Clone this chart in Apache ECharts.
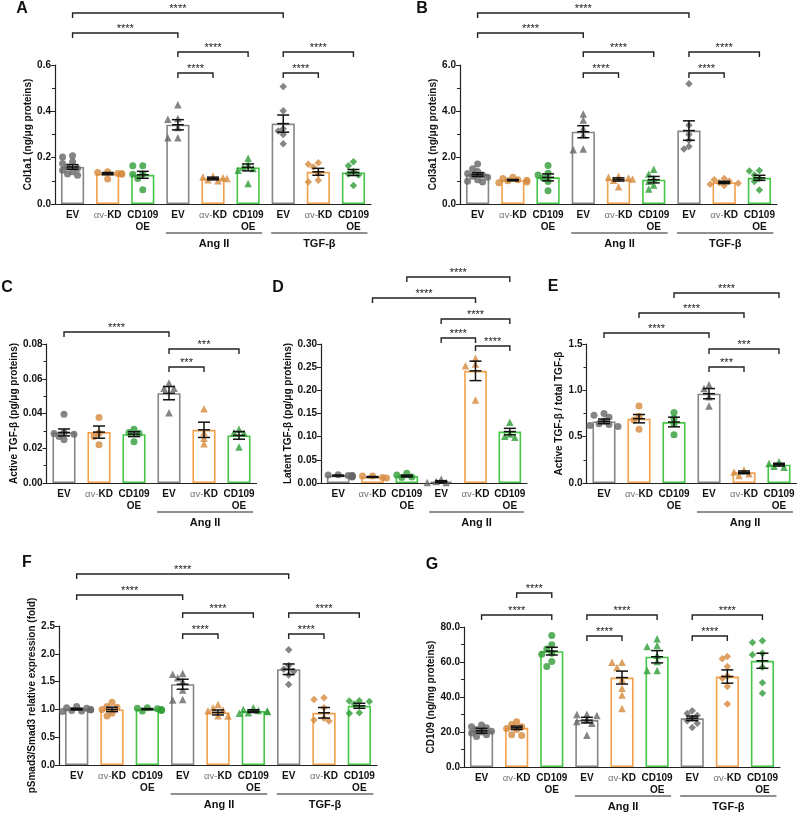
<!DOCTYPE html>
<html>
<head>
<meta charset="utf-8">
<script src="https://cdn.jsdelivr.net/npm/echarts@6/dist/echarts.min.js"></script>
<style>
html, body { margin: 0; padding: 0; background: #fff; }
#main { width: 798px; height: 814px; }
</style>
</head>
<body>
<div id="main"></div>
<script>
// categories
var cats9 = ['EV', 'αv-KD', 'CD109\nOE', 'EV', 'αv-KD', 'CD109\nOE', 'EV', 'αv-KD', 'CD109\nOE'];
var cats6 = cats9.slice(0, 6);
var groups9 = [[3, 5, 'Ang II'], [6, 8, 'TGF-β']];
var groups6 = [[3, 5, 'Ang II']];

// A - Col1a1
var aMean = [0.160, 0.131, 0.126, 0.342, 0.110, 0.158, 0.347, 0.139, 0.136];
var aSem = [0.010, 0.005, 0.015, 0.022, 0.006, 0.015, 0.037, 0.015, 0.013];
var aPts = [
    [0.208, 0.203, 0.182, 0.175, 0.160, 0.153, 0.146, 0.139, 0.129, 0.124],
    [0.139, 0.136, 0.132, 0.132, 0.128, 0.108],
    [0.165, 0.165, 0.130, 0.128, 0.110, 0.062],
    [0.428, 0.369, 0.366, 0.330, 0.286, 0.286],
    [0.120, 0.117, 0.113, 0.110, 0.105, 0.100],
    [0.197, 0.170, 0.160, 0.153, 0.146, 0.088],
    [0.507, 0.403, 0.325, 0.315, 0.300, 0.260],
    [0.178, 0.172, 0.160, 0.130, 0.103, 0.095],
    [0.182, 0.165, 0.140, 0.130, 0.125, 0.080]
];
var aBr = [[0, 6, '****'], [0, 3, '****'], [3, 5, '****'], [6, 8, '****'], [3, 4, '****'], [6, 7, '****']];

// B - Col3a1
var bMean = [1.27, 1.03, 1.15, 3.12, 1.06, 1.05, 3.17, 0.93, 1.13];
var bSem = [0.08, 0.03, 0.15, 0.26, 0.07, 0.14, 0.42, 0.05, 0.11];
var bPts = [
    [1.73, 1.52, 1.40, 1.32, 1.25, 1.20, 1.15, 1.05, 0.98, 0.95],
    [1.15, 1.10, 1.05, 1.02, 1.00, 0.95, 0.92],
    [1.66, 1.33, 1.25, 1.12, 0.97, 0.57],
    [3.89, 3.63, 3.27, 2.99, 2.37, 2.34],
    [1.20, 1.15, 1.12, 1.08, 1.02, 0.75],
    [1.50, 1.30, 1.10, 0.98, 0.82, 0.65],
    [5.19, 3.40, 3.00, 2.75, 2.48, 2.37],
    [1.10, 1.05, 0.98, 0.93, 0.90, 0.85, 0.80],
    [1.45, 1.42, 1.25, 1.10, 0.97, 0.60]
];
var bBr = [[0, 6, '****'], [0, 3, '****'], [3, 5, '****'], [6, 8, '****'], [3, 4, '****'], [6, 7, '****']];

// C - Active TGF-b
var cMean = [0.0291, 0.0293, 0.0281, 0.0517, 0.0306, 0.0274];
var cSem = [0.0020, 0.0035, 0.0014, 0.0038, 0.0044, 0.0022];
var cPts = [
    [0.0396, 0.0290, 0.0285, 0.0280, 0.0268, 0.0249],
    [0.0377, 0.0287, 0.0268, 0.0220],
    [0.0310, 0.0290, 0.0287, 0.0237],
    [0.0575, 0.0545, 0.0545, 0.0405],
    [0.0427, 0.0290, 0.0258, 0.0226],
    [0.0310, 0.0290, 0.0287, 0.0207]
];
var cBr = [[0, 3, '****'], [3, 5, '***'], [3, 4, '***']];

// D - Latent TGF-b
var dMean = [0.016, 0.013, 0.015, 0.003, 0.242, 0.111];
var dSem = [0.001, 0.001, 0.002, 0.002, 0.021, 0.007];
var dPts = [
    [0.018, 0.017, 0.016, 0.016, 0.015, 0.015, 0.014, 0.013],
    [0.015, 0.015, 0.012, 0.011],
    [0.021, 0.017, 0.013, 0.012],
    [0.008, 0.003, 0.001, 0.001],
    [0.269, 0.257, 0.253, 0.179],
    [0.131, 0.106, 0.101, 0.099]
];
var dBr = [[2, 5, '****'], [1, 4, '****'], [3, 5, '****'], [3, 4, '****'], [4, 5, '****']];

// E - active / total
var eMean = [0.665, 0.694, 0.658, 0.964, 0.115, 0.198];
var eSem = [0.025, 0.045, 0.052, 0.055, 0.015, 0.015];
var ePts = [
    [0.75, 0.73, 0.71, 0.67, 0.64, 0.63, 0.62, 0.61],
    [0.83, 0.72, 0.68, 0.58],
    [0.76, 0.70, 0.64, 0.52],
    [1.06, 1.02, 0.93, 0.83],
    [0.14, 0.12, 0.10, 0.08],
    [0.23, 0.21, 0.18, 0.17]
];
var eBr = [[2, 5, '****'], [1, 4, '****'], [0, 3, '****'], [3, 5, '***'], [3, 4, '***']];

// F - pSmad3/Smad3
var fMean = [1.005, 1.000, 1.005, 1.453, 0.945, 0.969, 1.722, 0.939, 1.065];
var fSem = [0.015, 0.040, 0.010, 0.090, 0.045, 0.025, 0.095, 0.095, 0.045];
var fPts = [
    [1.05, 1.03, 1.02, 1.00, 0.99, 0.98, 0.97, 0.96],
    [1.13, 1.05, 1.04, 1.00, 0.93, 0.88],
    [1.03, 1.02, 1.01, 1.00, 0.99, 0.98, 0.97],
    [1.645, 1.633, 1.567, 1.50, 1.35, 1.18, 1.17],
    [1.09, 1.03, 0.99, 0.975, 0.885, 0.88],
    [1.03, 1.00, 0.98, 0.97, 0.96, 0.94, 0.93],
    [2.075, 1.79, 1.72, 1.68, 1.62, 1.45],
    [1.21, 1.18, 1.03, 0.84, 0.81, 0.79],
    [1.155, 1.15, 1.14, 1.095, 0.94, 0.93]
];
var fBr = [[0, 6, '****'], [0, 3, '****'], [3, 5, '****'], [6, 8, '****'], [3, 4, '****'], [6, 7, '****']];

// G - CD109
var gMean = [20.7, 22.4, 66.2, 26.8, 51.1, 63.0, 27.8, 51.7, 60.7];
var gSem = [1.4, 1.0, 2.2, 1.6, 3.7, 3.5, 1.3, 3.8, 4.3];
var gPts = [
    [24.0, 23.0, 22.5, 21.5, 20.5, 20.0, 19.5, 18.5, 17.5],
    [25.8, 24.3, 23.0, 22.0, 21.5, 18.5, 18.0],
    [75.2, 69.9, 67.4, 65.0, 64.5, 60.3, 57.4],
    [30.2, 30.0, 29.5, 27.0, 26.0, 25.0, 18.2],
    [59.9, 59.9, 56.8, 49.8, 45.0, 41.1, 33.5],
    [73.3, 69.5, 68.9, 63.7, 60.3, 55.1, 55.1],
    [32.2, 30.6, 29.5, 28.0, 26.5, 25.0, 22.6],
    [63.2, 61.8, 57.4, 52.0, 50.7, 46.0, 36.0],
    [72.2, 71.2, 65.0, 64.1, 57.0, 48.2, 42.1]
];
var gBr = [[1, 2, '****'], [0, 2, '****'], [3, 5, '****'], [6, 8, '****'], [3, 4, '****'], [6, 7, '****']];

var barColors = ['#868686', '#f2a04c', '#46c646'];
var dotColors = ['#666666', '#d4893c', '#2f9e37'];
var shapes = ['circle', 'triangle', 'diamond'];
var FONT = '"Liberation Sans", Arial, sans-serif';

// layout per panel: grid = [left, top, width, height], brY = pixel rows of the brackets
var panels = [
    { letter: 'A', lp: [22, 9], grid: [55, 65, 316, 139], cats: cats9, groups: groups9, mean: aMean, sem: aSem, pts: aPts, br: aBr,
      brY: [13, 33, 52, 52, 73, 73], max: 0.6, interval: 0.2, minor: true, dec: 1, name: 'Col1a1 (ng/μg proteins)', gap: 20 },
    { letter: 'B', lp: [422, 9], grid: [460, 65, 317, 139], cats: cats9, groups: groups9, mean: bMean, sem: bSem, pts: bPts, br: bBr,
      brY: [13, 33, 52, 52, 73, 73], max: 6, interval: 2, minor: true, dec: 1, name: 'Col3a1 (ng/μg proteins)', gap: 22 },
    { letter: 'C', lp: [7, 288], grid: [46.5, 344, 210, 139], cats: cats6, groups: groups6, mean: cMean, sem: cSem, pts: cPts, br: cBr,
      brY: [332, 349, 367], max: 0.08, interval: 0.02, minor: true, dec: 2, name: 'Active TGF-β (pg/μg proteins)', gap: 24 },
    { letter: 'D', lp: [278, 288], grid: [321, 344, 206, 139], cats: cats6, groups: groups6, mean: dMean, sem: dSem, pts: dPts, br: dBr,
      brY: [277, 298, 319, 338, 346], max: 0.3, interval: 0.05, minor: false, dec: 2, name: 'Latent TGF-β (pg/μg proteins)', gap: 26 },
    { letter: 'E', lp: [553, 287], grid: [586.5, 344, 210, 139], cats: cats6, groups: groups6, mean: eMean, sem: eSem, pts: ePts, br: eBr,
      brY: [293, 313, 333, 349, 367], max: 1.5, interval: 0.5, minor: true, dec: 1, name: 'Active TGF-β / total TGF-β', gap: 15 },
    { letter: 'F', lp: [27, 563], grid: [59, 626, 318, 139], cats: cats9, groups: groups9, mean: fMean, sem: fSem, pts: fPts, br: fBr,
      brY: [574, 595, 613, 613, 634, 634], max: 2.5, interval: 0.5, minor: false, dec: 1, name: 'pSmad3/Smad3 relative expression (fold)', gap: 18 },
    { letter: 'G', lp: [432, 565], grid: [464, 627, 316, 140], cats: cats9, groups: groups9, mean: gMean, sem: gSem, pts: gPts, br: gBr,
      brY: [593, 615, 615, 615, 636, 636], max: 80, interval: 20, minor: true, dec: 1, name: 'CD109 (ng/mg proteins)', gap: 25 }
];

// spread overlapping dots sideways, GraphPad style
function swarm(vals, ppu) {
    var steps = [0, -5, 5, -10, 10, -14, 14];
    var placed = [];
    return vals.map(function(v) {
        var py = v * ppu, dx = steps[steps.length - 1];
        for (var s = 0; s < steps.length; s++) {
            var ok = placed.every(function(q) {
                var ex = steps[s] - q[0], ey = py - q[1];
                return ex * ex + ey * ey >= 30;
            });
            if (ok) { dx = steps[s]; break; }
        }
        placed.push([dx, py]);
        return dx;
    });
}

function catLabel(v) {
    return v === 'αv-KD' ? '{a|αv-}{b|KD}' : v;
}

var grids = [], xAxes = [], yAxes = [], series = [], graphics = [];

panels.forEach(function(p, k) {
    grids.push({ left: p.grid[0], top: p.grid[1], width: p.grid[2], height: p.grid[3], outerBoundsMode: 'none' });
    xAxes.push({
        type: 'category', gridIndex: k, data: p.cats,
        axisLine: { lineStyle: { color: '#222', width: 1.2 } },
        axisTick: { show: false },
        splitLine: { show: false },
        axisLabel: {
            interval: 0, margin: 5, color: '#111', fontSize: 10, fontWeight: 'bold', fontFamily: FONT, lineHeight: 12,
            formatter: catLabel,
            rich: {
                a: { fontSize: 9.5, fontWeight: 'normal', color: '#777', fontFamily: FONT },
                b: { fontSize: 10, fontWeight: 'bold', color: '#111', fontFamily: FONT }
            }
        }
    });
    yAxes.push({
        type: 'value', gridIndex: k, min: 0, max: p.max, interval: p.interval,
        name: p.name, nameLocation: 'middle', nameGap: p.gap,
        nameTextStyle: { fontSize: 10, fontWeight: 'bold', color: '#111', fontFamily: FONT },
        axisLine: { show: true, lineStyle: { color: '#222', width: 1.2 } },
        axisTick: { show: true, length: 4, lineStyle: { color: '#222' } },
        minorTick: { show: p.minor, splitNumber: 2, length: 3, lineStyle: { color: '#222' } },
        splitLine: { show: false },
        minorSplitLine: { show: false },
        axisLabel: {
            fontSize: 10, fontWeight: 'bold', color: '#111', fontFamily: FONT, margin: 4,
            formatter: function(v) { return v.toFixed(p.dec); }
        }
    });

    series.push({
        type: 'bar', xAxisIndex: k, yAxisIndex: k, barWidth: '66%', silent: true, z: 2,
        data: p.mean.map(function(m, i) {
            return { value: m, itemStyle: { color: '#fff', borderColor: barColors[i % 3], borderWidth: 1.6 } };
        })
    });

    var ppu = p.grid[3] / p.max;
    var dots = [];
    p.pts.forEach(function(vals, i) {
        var offs = swarm(vals, ppu);
        vals.forEach(function(v, j) {
            var shape = shapes[Math.floor(i / 3)];
            dots.push({
                value: [i, v], symbol: shape, symbolSize: shape === 'circle' ? 7 : 7.5,
                symbolOffset: [offs[j], 0], itemStyle: { color: dotColors[i % 3] }
            });
        });
    });
    series.push({ type: 'scatter', xAxisIndex: k, yAxisIndex: k, silent: true, z: 3, data: dots });

    series.push({
        type: 'custom', xAxisIndex: k, yAxisIndex: k, silent: true, z: 4,
        encode: { x: 0, y: 1 },
        data: p.mean.map(function(m, i) { return [i, m, p.sem[i]]; }),
        renderItem: function(params, api) {
            var i = api.value(0), m = api.value(1), s = api.value(2);
            var c = api.coord([i, m]), t = api.coord([i, m + s]), b = api.coord([i, Math.max(0, m - s)]);
            var w = 6, st = { stroke: '#111', lineWidth: 1.5 };
            return { type: 'group', children: [
                { type: 'line', shape: { x1: c[0], y1: t[1], x2: c[0], y2: b[1] }, style: st },
                { type: 'line', shape: { x1: c[0] - w, y1: t[1], x2: c[0] + w, y2: t[1] }, style: st },
                { type: 'line', shape: { x1: c[0] - w, y1: b[1], x2: c[0] + w, y2: b[1] }, style: st },
                { type: 'line', shape: { x1: c[0] - w, y1: c[1], x2: c[0] + w, y2: c[1] }, style: st }
            ] };
        }
    });

    // significance brackets
    series.push({
        type: 'custom', xAxisIndex: k, yAxisIndex: k, silent: true, z: 5, clip: false,
        encode: { x: 0, y: 1 },
        data: p.br.map(function(b, j) { return [b[0], 0, b[1], j]; }),
        renderItem: function(params, api) {
            var j = api.value(3);
            var x1 = api.coord([api.value(0), 0])[0], x2 = api.coord([api.value(2), 0])[0];
            var y = p.brY[j];
            return { type: 'group', children: [
                { type: 'polyline', shape: { points: [[x1, y + 5], [x1, y], [x2, y], [x2, y + 5]] },
                  style: { stroke: '#222', lineWidth: 1.4, fill: null } },
                { type: 'text', x: (x1 + x2) / 2, y: y - 4,
                  style: { text: p.br[j][2], fill: '#222', font: '11px ' + FONT, align: 'center', verticalAlign: 'middle' } }
            ] };
        }
    });

    // treatment group underline
    series.push({
        type: 'custom', xAxisIndex: k, yAxisIndex: k, silent: true, z: 5, clip: false,
        encode: { x: 0, y: 1 },
        data: p.groups.map(function(g, j) { return [g[0], 0, g[1], j]; }),
        renderItem: function(params, api) {
            var j = api.value(3);
            var x1 = api.coord([api.value(0), 0])[0] - 12, x2 = api.coord([api.value(2), 0])[0] + 14;
            var yb = api.coord([0, 0])[1];
            return { type: 'group', children: [
                { type: 'line', shape: { x1: x1, y1: yb + 29, x2: x2, y2: yb + 29 }, style: { stroke: '#222', lineWidth: 1.2 } },
                { type: 'text', x: (x1 + x2) / 2, y: yb + 40,
                  style: { text: p.groups[j][2], fill: '#111', font: 'bold 11px ' + FONT, align: 'center', verticalAlign: 'middle' } }
            ] };
        }
    });

    graphics.push({
        type: 'text', x: p.lp[0], y: p.lp[1],
        style: { text: p.letter, fill: '#111', font: 'bold 16px ' + FONT, align: 'center', verticalAlign: 'middle' }
    });
});

var chart = echarts.init(document.getElementById('main'), null, { renderer: 'canvas' });
chart.setOption({
    backgroundColor: '#fff',
    animation: false,
    grid: grids,
    xAxis: xAxes,
    yAxis: yAxes,
    series: series,
    graphic: graphics
});
</script>
</body>
</html>
